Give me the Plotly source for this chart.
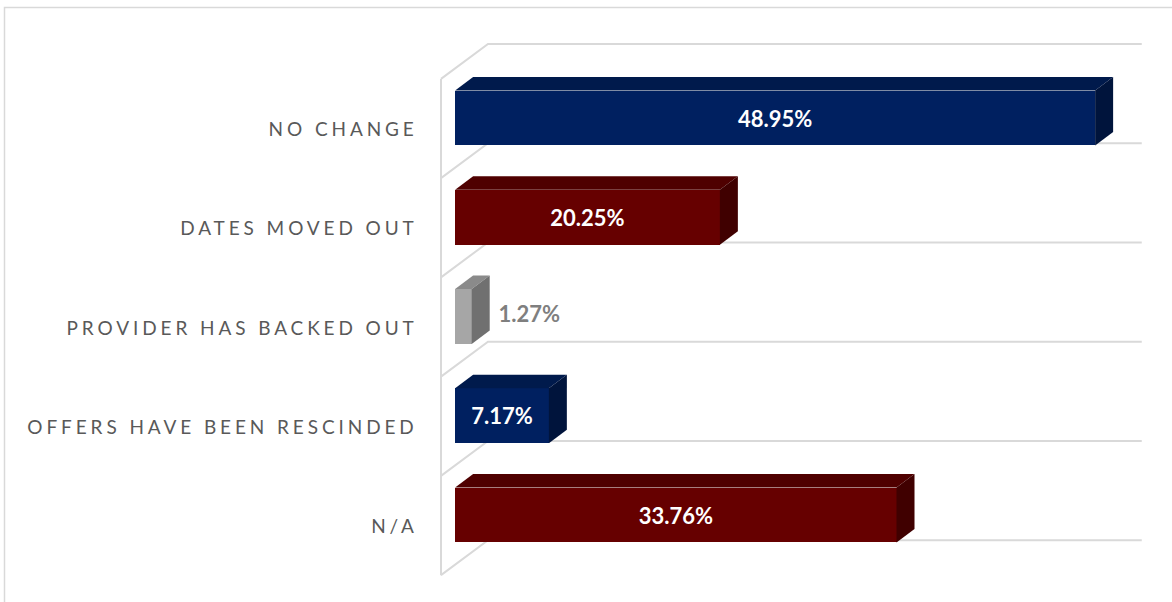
import plotly.graph_objects as go

# ---- data -------------------------------------------------------------
categories = [
    "NO CHANGE",
    "DATES MOVED OUT",
    "PROVIDER HAS BACKED OUT",
    "OFFERS HAVE BEEN RESCINDED",
    "N/A",
]
shares = [48.95, 20.25, 1.27, 7.17, 33.76]
label_inside = [True, True, False, True, True]

front_colors = ["#002060", "#660000", "#A6A6A6", "#002060", "#660000"]
top_colors = ["#001A4C", "#4F0000", "#8A8A8A", "#001A4C", "#4F0000"]
side_colors = ["#00143C", "#400000", "#707070", "#00143C", "#400000"]

# ---- oblique 3-D projection set-up -------------------------------------
W, H = 1172, 602
PX_PER_UNIT = 13.075      # horizontal pixels per percentage point
X_ORIGIN_PX = 441         # value 0 on the front plane
PX_PER_CAT = 99.25        # vertical pixels per category slot
Y_ORIGIN_PX = 128.5       # first category centre on the front plane
VALUE_MAX = 50
DX = 47 / PX_PER_UNIT     # full depth shift, value units
DY = -35 / PX_PER_CAT     # full depth shift, category units (upwards)
D_FRONT, D_BACK = 0.30, 0.683   # bar front / back planes in depth
HALF_BAR = 0.277

x_range = [-X_ORIGIN_PX / PX_PER_UNIT, (W - X_ORIGIN_PX) / PX_PER_UNIT]
y_range = [(H - Y_ORIGIN_PX) / PX_PER_CAT, -Y_ORIGIN_PX / PX_PER_CAT]

slots = list(range(len(categories)))

fig = go.Figure()

# front faces
fig.add_trace(go.Bar(
    orientation="h",
    x=shares,
    y=[c + D_FRONT * DY for c in slots],
    base=D_FRONT * DX,
    width=2 * HALF_BAR,
    marker=dict(color=front_colors, line=dict(width=0)),
    text=[f"{v:.2f}%" if ins else "" for v, ins in zip(shares, label_inside)],
    textposition="inside",
    insidetextanchor="middle",
    textangle=0,
    constraintext="none",
    textfont=dict(family="Lato", size=22, color="white", weight="bold"),
    hoverinfo="skip",
    showlegend=False,
))

# top and side faces
for c, v, tc, sc in zip(slots, shares, top_colors, side_colors):
    y_top_f = c - HALF_BAR + D_FRONT * DY
    y_top_b = c - HALF_BAR + D_BACK * DY
    y_bot_f = c + HALF_BAR + D_FRONT * DY
    y_bot_b = c + HALF_BAR + D_BACK * DY
    x0f, x0b = D_FRONT * DX, D_BACK * DX
    x1f, x1b = v + D_FRONT * DX, v + D_BACK * DX
    fig.add_trace(go.Scatter(
        x=[x0f, x1f, x1b, x0b, x0f], y=[y_top_f, y_top_f, y_top_b, y_top_b, y_top_f],
        mode="lines", fill="toself", fillcolor=tc, line=dict(width=0),
        hoverinfo="skip", showlegend=False,
    ))
    fig.add_trace(go.Scatter(
        x=[x1f, x1f, x1b, x1b, x1f], y=[y_top_f, y_bot_f, y_bot_b, y_top_b, y_top_f],
        mode="lines", fill="toself", fillcolor=sc, line=dict(width=0),
        hoverinfo="skip", showlegend=False,
    ))

# value labels that sit beside their bar
out_idx = [i for i, ins in enumerate(label_inside) if not ins]
fig.add_trace(go.Scatter(
    x=[shares[i] + D_BACK * DX + 0.68 for i in out_idx],
    y=[slots[i] + D_FRONT * DY for i in out_idx],
    text=[f"{shares[i]:.2f}%" for i in out_idx],
    mode="text", textposition="middle right",
    textfont=dict(family="Lato", size=22, color="#7F7F7F", weight="bold"),
    hoverinfo="skip", showlegend=False,
))

# category labels on the front plane
fig.add_trace(go.Scatter(
    x=[-1.78] * len(categories),
    y=[c + 0.03 for c in slots],
    text=categories,
    mode="text", textposition="middle left",
    textfont=dict(family="Lato", size=19, color="#595959"),
    hoverinfo="skip", showlegend=False,
))

# walls and gridlines (behind the bars)
GRID = dict(color="#D9D9D9", width=2)
shapes = []
for j in range(len(categories) + 1):
    cb = -0.5 + j
    path = (f"M 0,{cb} L {DX},{cb + DY} L {VALUE_MAX + DX},{cb + DY}")
    shapes.append(dict(type="path", path=path, xref="x", yref="y",
                       line=GRID, layer="below"))
shapes.append(dict(type="line", x0=0, x1=0, y0=-0.5, y1=len(categories) - 0.5,
                   xref="x", yref="y", line=GRID, layer="below"))
# chart-area border
shapes.append(dict(type="rect", xref="paper", yref="paper",
                   x0=4.5 / W, x1=1.05, y0=-0.05, y1=1 - 7.5 / H,
                   line=dict(color="#D9D9D9", width=1.5), layer="below"))

fig.update_layout(
    width=W, height=H,
    margin=dict(l=0, r=0, t=0, b=0),
    paper_bgcolor="white", plot_bgcolor="white",
    xaxis=dict(range=x_range, visible=False, fixedrange=True),
    yaxis=dict(range=y_range, visible=False, fixedrange=True),
    shapes=shapes,
    bargap=0,
    showlegend=False,
)

letter_spacing_js = """
var gd = document.getElementById('{plot_id}');
gd.querySelectorAll('.textpoint text').forEach(function (t) {
  if (t.textContent.indexOf('%') === -1) { t.style.letterSpacing = '3.9px'; }
});
"""

fig.write_html("out.html", post_script=letter_spacing_js,
               config={"displayModeBar": False, "staticPlot": True})
